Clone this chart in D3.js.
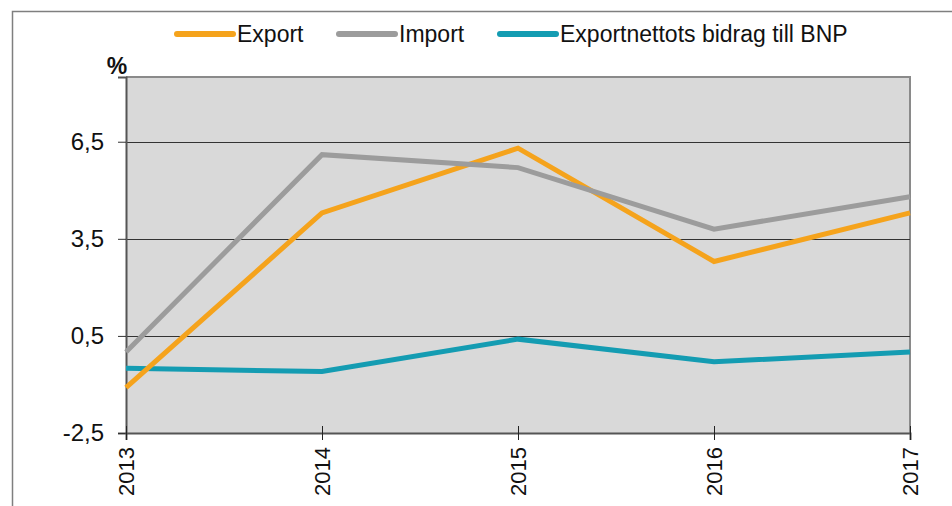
<!DOCTYPE html>
<html>
<head>
<meta charset="utf-8">
<script src="https://cdn.jsdelivr.net/npm/d3@7"></script>
<style>
  body { margin: 0; background: #fff; }
  svg { display: block; font-family: Arial, "Liberation Sans", sans-serif; }
</style>
</head>
<body>
<div id="chart"></div>
<script>
// Data
const years = ['2013', '2014', '2015', '2016', '2017'];
const exportValues = [-1.1, 4.3, 6.3, 2.8, 4.3];
const importValues = [0.0, 6.1, 5.7, 3.8, 4.8];
const netValues = [-0.5, -0.6, 0.4, -0.3, 0.0];
const yTicks = [-2.5, 0.5, 3.5, 6.5];
const seriesNames = ['Export', 'Import', 'Exportnettots bidrag till BNP'];
const seriesColors = ['#f5a31c', '#9c9c9c', '#149cb2'];

const width = 952, height = 506;
const margin = { top: 77, right: 42, bottom: 73, left: 126 };
const innerW = width - margin.left - margin.right;
const innerH = height - margin.top - margin.bottom;

const svg = d3.select('#chart').append('svg')
  .attr('width', width)
  .attr('height', height);

// Outer frame (partly cropped in the original)
svg.append('path')
  .attr('d', `M12.5,${height + 2} V11.5 H${width + 2}`)
  .attr('fill', 'none')
  .attr('stroke', '#7f7f7f')
  .attr('stroke-width', 1.5);

const x = d3.scalePoint().domain(years).range([0, innerW]);
const y = d3.scaleLinear().domain([-2.5, 8.5]).range([innerH, 0]);

const g = svg.append('g')
  .attr('transform', `translate(${margin.left},${margin.top})`);

// Plot background
g.append('rect')
  .attr('width', innerW)
  .attr('height', innerH)
  .attr('fill', '#d9d9d9');

// Top and right border
g.append('path')
  .attr('d', `M0,0 H${innerW} V${innerH}`)
  .attr('fill', 'none')
  .attr('stroke', '#8a8a8a')
  .attr('stroke-width', 2);

// Gridlines
g.append('g')
  .selectAll('line')
  .data(yTicks.filter(d => d > -2.5))
  .join('line')
  .attr('x1', 0)
  .attr('x2', innerW)
  .attr('y1', d => Math.round(y(d)) + 0.5)
  .attr('y2', d => Math.round(y(d)) + 0.5)
  .attr('stroke', '#333')
  .attr('stroke-width', 1.2);

// Y axis
const yAxis = g.append('g')
  .call(d3.axisLeft(y).tickValues(yTicks).tickSize(8).tickPadding(14)
    .tickFormat(d => d.toFixed(1).replace('.', ',')));
yAxis.select('.domain').attr('stroke', '#555').attr('stroke-width', 2);
yAxis.selectAll('.tick line').attr('stroke', '#333');
yAxis.selectAll('.tick text')
  .attr('fill', '#111')
  .style('font-size', '24px')
  .style('font-family', 'Arial, "Liberation Sans", sans-serif');

// X axis
const xAxis = g.append('g')
  .attr('transform', `translate(0,${innerH})`)
  .call(d3.axisBottom(x).tickSize(7).tickPadding(10));
xAxis.select('.domain').attr('stroke', '#555').attr('stroke-width', 2);
xAxis.selectAll('.tick line').attr('stroke', '#222').attr('y1', -7);
xAxis.selectAll('.tick text')
  .attr('fill', '#111')
  .style('font-size', '22px')
  .style('font-family', 'Arial, "Liberation Sans", sans-serif')
  .attr('transform', 'rotate(-90)')
  .attr('text-anchor', 'end')
  .attr('dy', '0.35em')
  .attr('x', -14)
  .attr('y', 0);

// Unit label
svg.append('text')
  .attr('x', 117)
  .attr('y', 74)
  .attr('text-anchor', 'middle')
  .style('font-size', '23px')
  .style('font-weight', 'bold')
  .attr('fill', '#111')
  .text('%');

// Lines
const line = d3.line()
  .x((d, i) => x(years[i]))
  .y(d => y(d));

const allSeries = [exportValues, importValues, netValues];
// draw order: net, export, import so crossings look like the original
[2, 0, 1].forEach(i => {
  g.append('path')
    .datum(allSeries[i])
    .attr('d', line)
    .attr('fill', 'none')
    .attr('stroke', seriesColors[i])
    .attr('stroke-width', 5)
    .attr('stroke-linejoin', 'miter');
});

// Legend
const legendX = [177, 339, 500];
const legend = svg.append('g');
seriesNames.forEach((name, i) => {
  legend.append('line')
    .attr('x1', legendX[i])
    .attr('x2', legendX[i] + 56)
    .attr('y1', 34)
    .attr('y2', 34)
    .attr('stroke', seriesColors[i])
    .attr('stroke-width', 6)
    .attr('stroke-linecap', 'round');
  legend.append('text')
    .attr('x', legendX[i] + 60)
    .attr('y', 42)
    .style('font-size', '23px')
    .attr('fill', '#111')
    .text(name);
});
</script>
</body>
</html>
